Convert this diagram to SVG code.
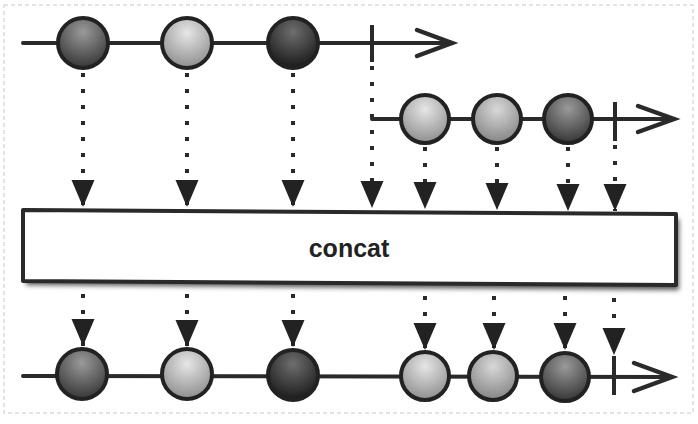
<svg xmlns="http://www.w3.org/2000/svg" width="698" height="424" viewBox="0 0 698 424">
<style>
.tl{stroke:#2a2a2a;stroke-width:4;fill:none;stroke-linecap:round}
.chev{stroke:#2a2a2a;stroke-width:4.5;fill:none;stroke-linejoin:miter;stroke-linecap:round}
.tick{stroke:#2a2a2a;stroke-width:4}
.m{stroke:#222;stroke-width:4}
.c{stroke:#2a2a2a;stroke-width:4;stroke-dasharray:4 12;fill:none}
.lbl{font-family:"Liberation Sans",Arial,sans-serif;font-weight:bold;font-size:25px;fill:#222}
</style>
<defs>
<radialGradient id="gL" cx="50%" cy="30%" r="70%">
<stop offset="0" stop-color="#e6e6e6"/><stop offset="1" stop-color="#8e8e8e"/>
</radialGradient>
<radialGradient id="gL2" cx="50%" cy="30%" r="70%">
<stop offset="0" stop-color="#d8d8d8"/><stop offset="1" stop-color="#858585"/>
</radialGradient>
<radialGradient id="gM" cx="50%" cy="28%" r="72%">
<stop offset="0" stop-color="#9a9a9a"/><stop offset="1" stop-color="#363636"/>
</radialGradient>
<radialGradient id="gD" cx="50%" cy="28%" r="72%">
<stop offset="0" stop-color="#6e6e6e"/><stop offset="1" stop-color="#1a1a1a"/>
</radialGradient>
<marker id="ah" markerUnits="userSpaceOnUse" markerWidth="28" markerHeight="24" refX="27" refY="11.5" orient="auto">
<path d="M0,0 L27,11.5 L0,23 z" fill="#222"/>
</marker>
<filter id="sh" x="-5%" y="-20%" width="110%" height="150%">
<feGaussianBlur stdDeviation="2.5"/>
</filter>
</defs>
<rect x="4" y="5" width="689" height="408" fill="#fff" stroke="#c8c8c8" stroke-width="1" stroke-dasharray="4 3"/>

<g id="timeline-top">
<line class="tl" x1="23" y1="43" x2="452" y2="43"/>
<polyline class="chev" points="417,30 452,43 417,56"/>
<line class="tick" x1="372" y1="25" x2="372" y2="62"/>
</g>
<g id="timeline-second">
<line class="tl" x1="372" y1="119" x2="674" y2="119"/>
<polyline class="chev" points="638,106 674,119 638,132"/>
<line class="tick" x1="615" y1="102" x2="615" y2="141"/>
</g>
<g id="timeline-result">
<line class="tl" x1="23" y1="376" x2="672" y2="377"/>
<polyline class="chev" points="634,363 672,377 634,391"/>
<line class="tick" x1="614" y1="356" x2="614" y2="395"/>
</g>

<g id="connectors">
<path class="c" d="M83,73 V207" marker-end="url(#ah)"/>
<path class="c" d="M187,73 V207" marker-end="url(#ah)"/>
<path class="c" d="M293,73 V207" marker-end="url(#ah)"/>
<path class="c" d="M372,66 V208" marker-end="url(#ah)"/>
<path class="c" d="M425,147 V209" marker-end="url(#ah)"/>
<path class="c" d="M497,147 V210" marker-end="url(#ah)"/>
<path class="c" d="M568,147 V211" marker-end="url(#ah)"/>
<path class="c" d="M615,145 V211" marker-end="url(#ah)"/>
<path class="c" d="M83,294 V346" marker-end="url(#ah)"/>
<path class="c" d="M187,294 V347" marker-end="url(#ah)"/>
<path class="c" d="M293,294 V347" marker-end="url(#ah)"/>
<path class="c" d="M425,296 V350" marker-end="url(#ah)"/>
<path class="c" d="M494,296 V350" marker-end="url(#ah)"/>
<path class="c" d="M565,296 V350" marker-end="url(#ah)"/>
<path class="c" d="M614,298 V355" marker-end="url(#ah)"/>
</g>

<g id="top-1"><circle class="m" cx="83" cy="43" r="25" fill="url(#gM)"/></g>
<g id="top-2"><circle class="m" cx="187" cy="43" r="25" fill="url(#gL)"/></g>
<g id="top-3"><circle class="m" cx="293" cy="43" r="25" fill="url(#gD)"/></g>
<g id="second-1"><circle class="m" cx="425" cy="119" r="24" fill="url(#gL)"/></g>
<g id="second-2"><circle class="m" cx="497" cy="119" r="24" fill="url(#gL2)"/></g>
<g id="second-3"><circle class="m" cx="568" cy="119" r="24" fill="url(#gM)"/></g>

<g id="concat-box">
<path d="M26,214 L679,219 L679,290 L26,285 z" fill="#555" filter="url(#sh)"/>
<path d="M23,210 L676,214 L676,285 L23,281 z" fill="#fff" stroke="#2a2a2a" stroke-width="4" stroke-linejoin="round"/>
<text class="lbl" x="349" y="257" text-anchor="middle">concat</text>
</g>

<g id="result-1"><circle class="m" cx="82" cy="374" r="25" fill="url(#gM)"/></g>
<g id="result-2"><circle class="m" cx="187" cy="374" r="25" fill="url(#gL)"/></g>
<g id="result-3"><circle class="m" cx="293" cy="375" r="25" fill="url(#gD)"/></g>
<g id="result-4"><circle class="m" cx="425" cy="376" r="24" fill="url(#gL)"/></g>
<g id="result-5"><circle class="m" cx="493" cy="376" r="24" fill="url(#gL2)"/></g>
<g id="result-6"><circle class="m" cx="565" cy="377" r="24" fill="url(#gM)"/></g>
</svg>
